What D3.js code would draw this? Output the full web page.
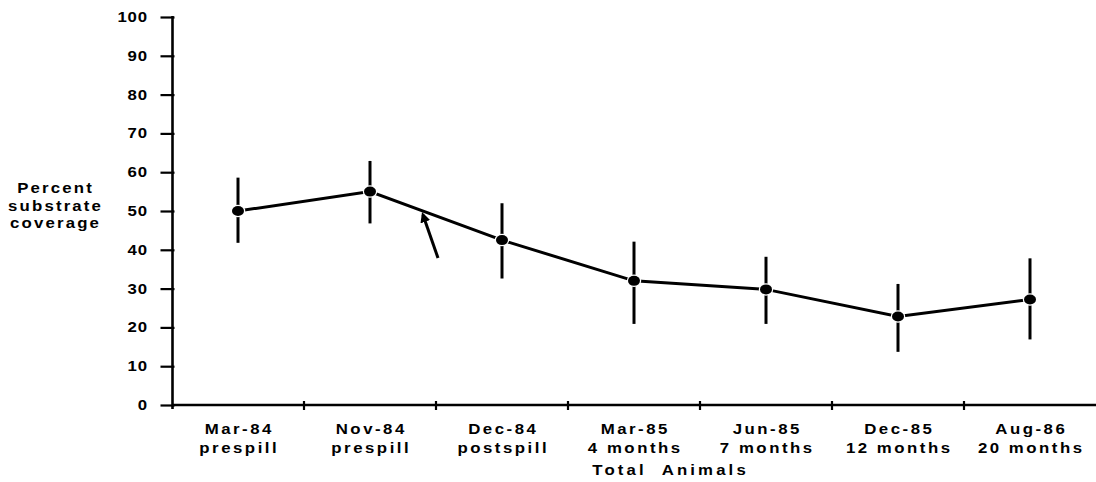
<!DOCTYPE html>
<html><head><meta charset="utf-8">
<script src="https://cdn.jsdelivr.net/npm/d3@7"></script>
<style>
body{margin:0;background:#fff;}
text{font-family:"Liberation Sans",Arial,sans-serif;fill:#000;font-weight:bold;}
</style></head>
<body>
<svg id="c" width="1096" height="482"></svg>
<script>
const dates = ["Mar-84","Nov-84","Dec-84","Mar-85","Jun-85","Dec-85","Aug-86"];
const phases = ["prespill","prespill","postspill","4 months","7 months","12 months","20 months"];
const means = [50, 55, 42.5, 32, 29.8, 22.8, 27.2];
const upper = [58.6, 62.9, 52, 42.1, 38.2, 31.2, 37.8];
const lower = [41.8, 46.8, 32.6, 20.9, 20.9, 13.7, 16.9];
const yTicks = [0,10,20,30,40,50,60,70,80,90,100];
const yLabel = ["Percent","substrate","coverage"];
const xTitle = "Total  Animals";

const svg = d3.select("#c");
const x = d3.scaleBand().domain(dates).range([172, 1096]);
const y = d3.scaleLinear().domain([0,100]).range([405, 17]);
const SX = 1.2;

// wide text helper: horizontally stretched glyphs
function wide(g, px, py, str, anchor, ls, size){
  const sh = anchor==="middle" ? ls*SX/2 : anchor==="end" ? ls*SX : 0;
  return g.append("text").attr("transform",`translate(${px+sh},${py}) scale(${SX},1)`)
    .attr("text-anchor",anchor).attr("font-size",size||14).attr("letter-spacing",ls+"px")
    .style("white-space","pre").text(str);
}

// y axis
const yAxis = d3.axisLeft(y).tickValues(yTicks).tickSize(12).tickFormat("").tickSizeOuter(0);
const gy = svg.append("g").attr("transform","translate(172.5,0)").call(yAxis);
gy.select(".domain").attr("stroke","#000").attr("stroke-width",2.6).attr("d","M0,16V409");
gy.selectAll(".tick line").attr("stroke","#000").attr("stroke-width",2.2).attr("x2",-12).attr("x1",2);
const yl = svg.append("g");
yTicks.forEach(t=>wide(yl, 147, y(t)+5, String(t), "end", 0.6, 14));

// x axis
const gx = svg.append("g").attr("transform","translate(0,405)");
gx.append("line").attr("x1",172).attr("x2",1096).attr("stroke","#000").attr("stroke-width",2.4);
const bounds = dates.map(d=>x(d));
gx.selectAll("line.t").data(bounds.slice(1)).join("line").attr("class","t")
  .attr("x1",d=>d).attr("x2",d=>d).attr("y1",-4).attr("y2",5).attr("stroke","#000").attr("stroke-width",2.2);

const lab = svg.append("g");
dates.forEach((d,i)=>{
  const c = x(d)+x.bandwidth()/2;
  wide(lab, c, 434, d, "middle", 2.1);
  wide(lab, c, 453, phases[i], "middle", 2.1);
});
wide(svg, 669, 475, xTitle, "middle", 2.6);

const yt = svg.append("g").attr("font-weight","bold");
yLabel.forEach((s,i)=>wide(yt, 54.5, 193+i*17.5, s, "middle", 1.8).attr("font-weight","600"));

// data
const cx = d => x(d)+x.bandwidth()/2;
const pts = dates.map((d,i)=>({d, m:means[i], u:upper[i], l:lower[i]}));
svg.append("path").datum(pts)
  .attr("d", d3.line().x(p=>cx(p.d)).y(p=>y(p.m)))
  .attr("fill","none").attr("stroke","#000").attr("stroke-width",3);

const eb = svg.append("g").attr("stroke","#000").attr("stroke-width",3);
pts.forEach(p=>{
  eb.append("line").attr("x1",cx(p.d)).attr("x2",cx(p.d)).attr("y1",y(p.u)).attr("y2",y(p.m));
  eb.append("line").attr("x1",cx(p.d)).attr("x2",cx(p.d)).attr("y1",y(p.m)).attr("y2",y(p.l));
});
svg.append("g").selectAll("ellipse").data(pts).join("ellipse")
  .attr("cx",p=>cx(p.d)).attr("cy",p=>y(p.m)).attr("rx",6).attr("ry",5)
  .attr("fill","#000").attr("stroke","#fff").attr("stroke-width",2.5).attr("paint-order","stroke");

// arrow annotation pointing at the Nov-84 to Dec-84 segment
const defs = svg.append("defs");
defs.append("marker").attr("id","ah").attr("viewBox","0 0 10 10").attr("refX",7).attr("refY",5)
  .attr("markerWidth",3.4).attr("markerHeight",3.4).attr("orient","auto")
  .append("path").attr("d","M0,0L10,5L0,10z").attr("fill","#000");
svg.append("line").attr("x1",438).attr("y1",258).attr("x2",423).attr("y2",215)
  .attr("stroke","#000").attr("stroke-width",3).attr("marker-end","url(#ah)");
</script>
</body></html>
